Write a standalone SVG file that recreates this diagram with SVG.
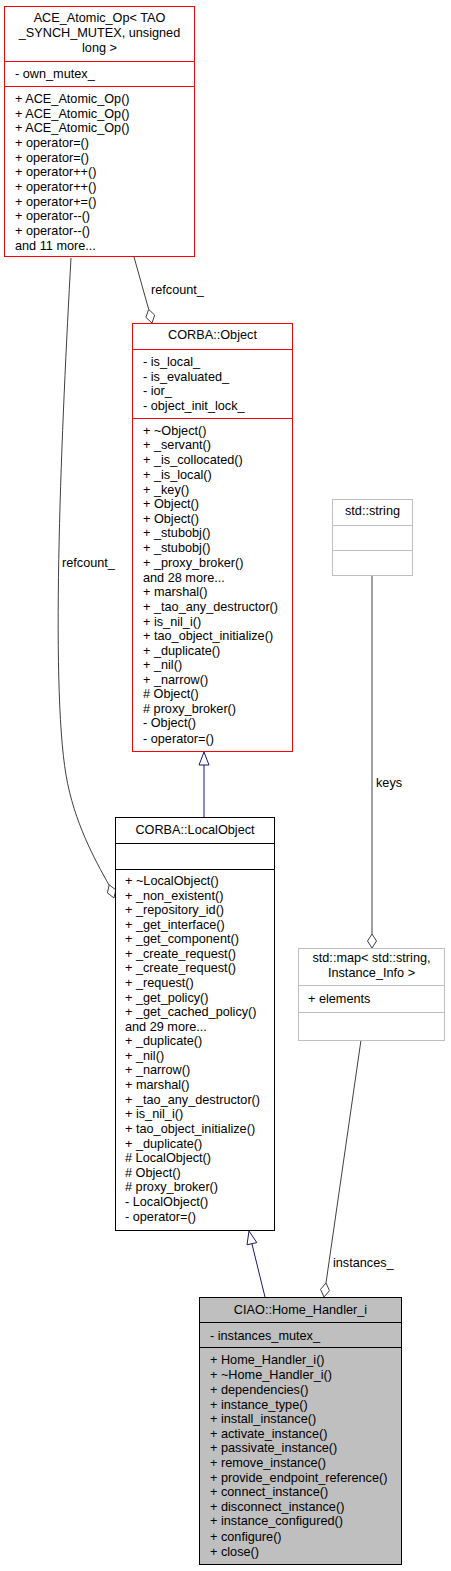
<svg xmlns="http://www.w3.org/2000/svg" width="451" height="1571" viewBox="0 0 451 1571">
<style>
text{font-family:"Liberation Sans",Arial,sans-serif;font-size:12.7px;fill:#000}
.c{text-anchor:middle}
.red{fill:#fff;stroke:#ff0000;stroke-width:1}
.blk{fill:#fff;stroke:#000;stroke-width:1}
.gry{fill:#bfbfbf;stroke:#000;stroke-width:1}
.lgt{fill:#fff;stroke:#bfbfbf;stroke-width:1}
.inh{fill:none;stroke:#191970;stroke-width:1}
.inhh{fill:#fff;stroke:#191970;stroke-width:1}
.use{fill:none;stroke:#404040;stroke-width:1}
.useh{fill:#fff;stroke:#404040;stroke-width:1}
</style>
<rect width="451" height="1571" fill="#fff"/>
<g id="connectors">
<path class="use" d="M71,258 C62,420 50,680 66,775 C74,822 95,860 109,885"/>
<polygon class="useh" points="109.2,884.8 115.8,889.9 114,898 107.4,892.9"/>
<text x="62" y="567">refcount_</text>
<path class="use" d="M134,257 L148.7,309.4"/>
<polygon class="useh" points="148.7,309.4 154.7,315.1 152,323 145.9,317.3"/>
<text x="151" y="294">refcount_</text>
<path class="inh" d="M204,765 L204,817"/>
<polygon class="inhh" points="204,752 209,765 199,765"/>
<path class="use" d="M372,575 L372,934"/>
<polygon class="useh" points="372,934 376.5,941 372,948 367.5,941"/>
<text x="376" y="787">keys</text>
<path class="inh" d="M265,1297 L251.9,1243.7"/>
<polygon class="inhh" points="249,1231 256.8,1242.6 247,1244.8"/>
<path class="use" d="M361,1040 L326,1283"/>
<polygon class="useh" points="326,1283 329.5,1290.6 324,1297 320.5,1289.4"/>
<text x="333" y="1267">instances_</text>
</g>
<g id="ace">
<rect class="red" x="4.5" y="6.5" width="190" height="250"/>
<line class="red" x1="4.5" y1="61.5" x2="194.5" y2="61.5"/>
<line class="red" x1="4.5" y1="86.5" x2="194.5" y2="86.5"/>
<text class="c" x="99.5" y="21.5">ACE_Atomic_Op&lt; TAO</text>
<text class="c" x="99.5" y="36.5">_SYNCH_MUTEX, unsigned</text>
<text class="c" x="99.5" y="51.5">long &gt;</text>
<text x="15" y="77.5">- own_mutex_</text>
<text x="15" y="102.5">+ ACE_Atomic_Op()</text>
<text x="15" y="117.5">+ ACE_Atomic_Op()</text>
<text x="15" y="131.5">+ ACE_Atomic_Op()</text>
<text x="15" y="146.5">+ operator=()</text>
<text x="15" y="161.5">+ operator=()</text>
<text x="15" y="175.5">+ operator++()</text>
<text x="15" y="190.5">+ operator++()</text>
<text x="15" y="205.5">+ operator+=()</text>
<text x="15" y="219.5">+ operator--()</text>
<text x="15" y="234.5">+ operator--()</text>
<text x="15" y="249.5">and 11 more...</text>
</g>
<g id="object">
<rect class="red" x="132.5" y="323.5" width="160" height="428"/>
<line class="red" x1="132.5" y1="349.5" x2="292.5" y2="349.5"/>
<line class="red" x1="132.5" y1="418.5" x2="292.5" y2="418.5"/>
<text class="c" x="212.5" y="338.5">CORBA::Object</text>
<text x="143" y="365.5">- is_local_</text>
<text x="143" y="380.5">- is_evaluated_</text>
<text x="143" y="394.5">- ior_</text>
<text x="143" y="409.5">- object_init_lock_</text>
<text x="143" y="434.5">+ ~Object()</text>
<text x="143" y="448.5">+ _servant()</text>
<text x="143" y="463.5">+ _is_collocated()</text>
<text x="143" y="478.5">+ _is_local()</text>
<text x="143" y="493.5">+ _key()</text>
<text x="143" y="507.5">+ Object()</text>
<text x="143" y="522.5">+ Object()</text>
<text x="143" y="536.5">+ _stubobj()</text>
<text x="143" y="551.5">+ _stubobj()</text>
<text x="143" y="566.5">+ _proxy_broker()</text>
<text x="143" y="581.5">and 28 more...</text>
<text x="143" y="595.5">+ marshal()</text>
<text x="143" y="610.5">+ _tao_any_destructor()</text>
<text x="143" y="625.5">+ is_nil_i()</text>
<text x="143" y="639.5">+ tao_object_initialize()</text>
<text x="143" y="654.5">+ _duplicate()</text>
<text x="143" y="668.5">+ _nil()</text>
<text x="143" y="683.5">+ _narrow()</text>
<text x="143" y="697.5"># Object()</text>
<text x="143" y="712.5"># proxy_broker()</text>
<text x="143" y="726.5">- Object()</text>
<text x="143" y="742.5">- operator=()</text>
</g>
<g id="string">
<rect class="lgt" x="332.5" y="499.5" width="80" height="76"/>
<line class="lgt" x1="332.5" y1="525.5" x2="412.5" y2="525.5"/>
<line class="lgt" x1="332.5" y1="550.5" x2="412.5" y2="550.5"/>
<text class="c" x="372.5" y="514.5">std::string</text>
</g>
<g id="localobject">
<rect class="blk" x="115.5" y="817.5" width="159" height="413"/>
<line class="blk" x1="115.5" y1="843.5" x2="274.5" y2="843.5"/>
<line class="blk" x1="115.5" y1="869.5" x2="274.5" y2="869.5"/>
<text class="c" x="195" y="833.5">CORBA::LocalObject</text>
<text x="125" y="884.5">+ ~LocalObject()</text>
<text x="125" y="899.5">+ _non_existent()</text>
<text x="125" y="913.5">+ _repository_id()</text>
<text x="125" y="928.5">+ _get_interface()</text>
<text x="125" y="942.5">+ _get_component()</text>
<text x="125" y="957.5">+ _create_request()</text>
<text x="125" y="971.5">+ _create_request()</text>
<text x="125" y="986.5">+ _request()</text>
<text x="125" y="1001.5">+ _get_policy()</text>
<text x="125" y="1015.5">+ _get_cached_policy()</text>
<text x="125" y="1030.5">and 29 more...</text>
<text x="125" y="1044.5">+ _duplicate()</text>
<text x="125" y="1059.5">+ _nil()</text>
<text x="125" y="1073.5">+ _narrow()</text>
<text x="125" y="1088.5">+ marshal()</text>
<text x="125" y="1103.5">+ _tao_any_destructor()</text>
<text x="125" y="1117.5">+ is_nil_i()</text>
<text x="125" y="1132.5">+ tao_object_initialize()</text>
<text x="125" y="1147.5">+ _duplicate()</text>
<text x="125" y="1161.5"># LocalObject()</text>
<text x="125" y="1176.5"># Object()</text>
<text x="125" y="1190.5"># proxy_broker()</text>
<text x="125" y="1205.5">- LocalObject()</text>
<text x="125" y="1220.5">- operator=()</text>
</g>
<g id="map">
<rect class="lgt" x="298.5" y="948.5" width="146" height="92"/>
<line class="lgt" x1="298.5" y1="985.5" x2="444.5" y2="985.5"/>
<line class="lgt" x1="298.5" y1="1012.5" x2="444.5" y2="1012.5"/>
<text class="c" x="371.5" y="961.5">std::map&lt; std::string,</text>
<text class="c" x="371.5" y="976.5">Instance_Info &gt;</text>
<text x="308" y="1003">+ elements</text>
</g>
<g id="homehandler">
<rect class="gry" x="199.5" y="1297.5" width="202" height="267"/>
<line class="blk" x1="199.5" y1="1322.5" x2="401.5" y2="1322.5"/>
<line class="blk" x1="199.5" y1="1347.5" x2="401.5" y2="1347.5"/>
<text class="c" x="300.5" y="1313.5">CIAO::Home_Handler_i</text>
<text x="210" y="1339.5">- instances_mutex_</text>
<text x="210" y="1363.5">+ Home_Handler_i()</text>
<text x="210" y="1378.5">+ ~Home_Handler_i()</text>
<text x="210" y="1393.5">+ dependencies()</text>
<text x="210" y="1408.5">+ instance_type()</text>
<text x="210" y="1422.5">+ install_instance()</text>
<text x="210" y="1437.5">+ activate_instance()</text>
<text x="210" y="1451.5">+ passivate_instance()</text>
<text x="210" y="1466.5">+ remove_instance()</text>
<text x="210" y="1481.5">+ provide_endpoint_reference()</text>
<text x="210" y="1495.5">+ connect_instance()</text>
<text x="210" y="1510.5">+ disconnect_instance()</text>
<text x="210" y="1524.5">+ instance_configured()</text>
<text x="210" y="1540.5">+ configure()</text>
<text x="210" y="1555.5">+ close()</text>
</g>
</svg>
